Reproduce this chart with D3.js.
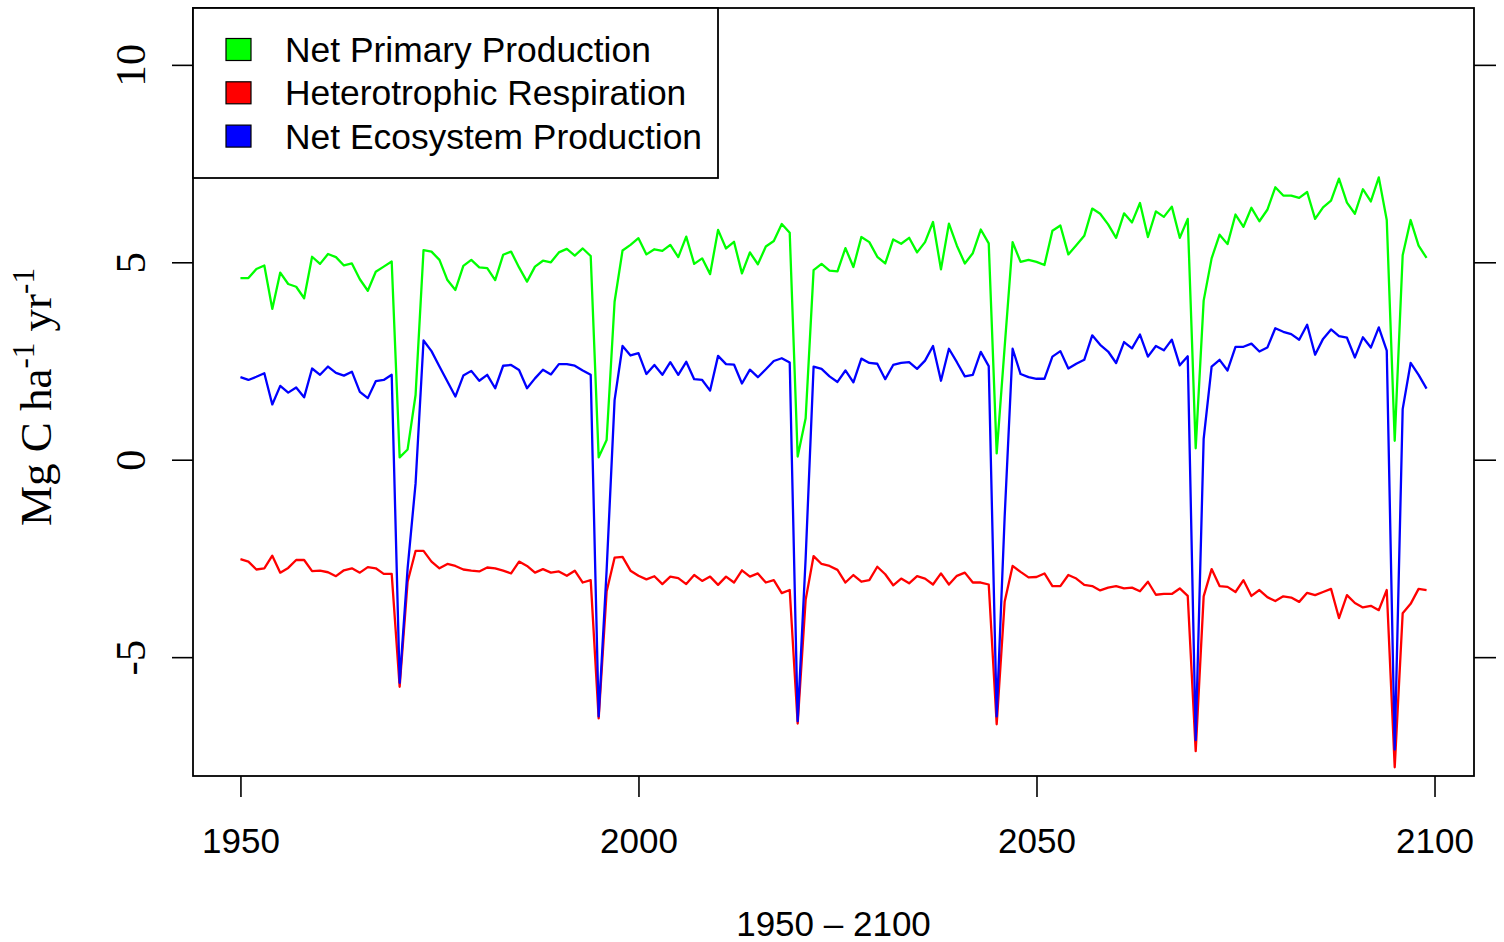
<!DOCTYPE html>
<html>
<head>
<meta charset="utf-8">
<script src="https://cdn.jsdelivr.net/npm/d3@7/dist/d3.min.js"></script>
<style>
    html, body { margin: 0; padding: 0; background: #fff; }
    svg { display: block; }
    .sans { font-family: 'Liberation Sans', Arial, Helvetica, sans-serif; }
    .serif { font-family: 'Liberation Serif', 'Times New Roman', serif; }
</style>
</head>
<body>
<svg id="chart"></svg>
<script>
// Data (Mg C ha-1 yr-1), one value per year 1950 - 2099;
const firstYear = 1950;
const lastYear = 2099;

const npp = [
    4.60, 4.60, 4.83, 4.92, 3.82, 4.74, 4.45, 4.38, 4.09, 5.14, 4.96, 5.21, 5.13, 4.92, 4.97, 4.57, 4.28, 4.76, 4.89, 5.02,
    0.06, 0.26, 1.64, 5.31, 5.27,
    5.06, 4.55, 4.30, 4.91, 5.06, 4.87, 4.85, 4.55, 5.19, 5.27, 4.87, 4.51, 4.89, 5.04, 5.00, 5.25, 5.34, 5.17, 5.35, 5.16,
    0.06, 0.50, 4.00, 5.30, 5.44,
    5.61, 5.20, 5.33, 5.29, 5.44, 5.13, 5.65, 4.96, 5.10, 4.70, 5.82, 5.35, 5.52, 4.72, 5.25, 4.95, 5.40, 5.54, 5.97, 5.75,
    0.08, 1.05, 4.80, 4.96, 4.79,
    4.77, 5.36, 4.88, 5.64, 5.51, 5.14, 4.97, 5.58, 5.47, 5.62, 5.25, 5.51, 6.02, 4.82, 5.98, 5.42, 4.97, 5.23, 5.83, 5.48,
    0.16, 2.85, 5.51, 5.01, 5.06,
    5.01, 4.93, 5.80, 5.93, 5.20, 5.43, 5.67, 6.36, 6.23, 5.96, 5.62, 6.24, 6.01, 6.50, 5.64, 6.29, 6.15, 6.41, 5.62, 6.10,
    0.29, 4.03, 5.10, 5.70, 5.46,
    6.21, 5.90, 6.38, 6.04, 6.33, 6.90, 6.69, 6.69, 6.63, 6.78, 6.10, 6.39, 6.56, 7.12, 6.51, 6.23, 6.85, 6.54, 7.15, 6.07,
    0.48, 5.18, 6.07, 5.42, 5.11
];

const rh = [
    -2.52, -2.58, -2.78, -2.75, -2.43, -2.86, -2.74, -2.54, -2.54, -2.82, -2.81, -2.85, -2.95, -2.80, -2.75, -2.86, -2.72, -2.75, -2.89, -2.89,
    -5.75, -3.09, -2.31, -2.31, -2.58,
    -2.75, -2.64, -2.69, -2.78, -2.81, -2.83, -2.73, -2.75, -2.81, -2.88, -2.58, -2.69, -2.86, -2.77, -2.86, -2.83, -2.94, -2.81, -3.11, -3.05,
    -6.55, -3.34, -2.48, -2.46, -2.81,
    -2.94, -3.03, -2.95, -3.15, -2.96, -3.00, -3.15, -2.92, -3.07, -2.96, -3.17, -2.96, -3.11, -2.80, -2.96, -2.88, -3.11, -3.05, -3.38, -3.30,
    -6.68, -3.55, -2.44, -2.64, -2.69,
    -2.79, -3.11, -2.92, -3.09, -3.05, -2.71, -2.90, -3.18, -3.01, -3.13, -2.95, -3.01, -3.16, -2.88, -3.16, -2.94, -2.86, -3.11, -3.11, -3.16,
    -6.70, -3.60, -2.69, -2.84, -2.98,
    -2.97, -2.88, -3.20, -3.20, -2.92, -3.01, -3.17, -3.20, -3.31, -3.24, -3.20, -3.26, -3.24, -3.33, -3.09, -3.42, -3.40, -3.40, -3.26, -3.45,
    -7.38, -3.46, -2.77, -3.20, -3.22,
    -3.35, -3.05, -3.45, -3.30, -3.48, -3.58, -3.46, -3.49, -3.60, -3.37, -3.43, -3.35, -3.27, -4.01, -3.43, -3.63, -3.74, -3.70, -3.81, -3.30,
    -7.79, -3.89, -3.65, -3.27, -3.30
];

const nep = [
    2.09, 2.02, 2.10, 2.19, 1.40, 1.87, 1.70, 1.83, 1.58, 2.31, 2.15, 2.36, 2.20, 2.13, 2.23, 1.72, 1.56, 1.99, 2.02, 2.15,
    -5.65, -2.75, -0.60, 3.02, 2.75,
    2.36, 1.98, 1.60, 2.13, 2.25, 2.00, 2.15, 1.81, 2.38, 2.40, 2.27, 1.81, 2.06, 2.28, 2.16, 2.42, 2.42, 2.38, 2.26, 2.15,
    -6.50, -2.80, 1.51, 2.88, 2.64,
    2.70, 2.17, 2.40, 2.15, 2.47, 2.15, 2.48, 2.04, 2.02, 1.75, 2.63, 2.42, 2.41, 1.93, 2.28, 2.09, 2.29, 2.50, 2.57, 2.46,
    -6.62, -2.50, 2.36, 2.30, 2.11,
    1.97, 2.26, 1.96, 2.56, 2.45, 2.43, 2.04, 2.40, 2.45, 2.47, 2.30, 2.51, 2.88, 2.00, 2.81, 2.47, 2.11, 2.15, 2.73, 2.37,
    -6.50, -1.45, 2.81, 2.17, 2.09,
    2.05, 2.05, 2.61, 2.75, 2.31, 2.43, 2.53, 3.15, 2.91, 2.74, 2.45, 2.98, 2.82, 3.17, 2.61, 2.88, 2.77, 3.04, 2.39, 2.62,
    -7.10, 0.53, 2.36, 2.53, 2.26,
    2.86, 2.86, 2.94, 2.74, 2.84, 3.33, 3.24, 3.18, 3.04, 3.42, 2.66, 3.06, 3.30, 3.13, 3.09, 2.59, 3.10, 2.84, 3.35, 2.76,
    -7.34, 1.28, 2.45, 2.15, 1.80
];

const seriesNames = ['Net Primary Production', 'Heterotrophic Respiration', 'Net Ecosystem Production'];
const seriesColors = ['#00ff00', '#ff0000', '#0000ff'];
const xTicks = [1950, 2000, 2050, 2100];
const yTicks = [-5, 0, 5, 10];
const xTitle = '1950 \u2013 2100';

// Layout;
const width = 1504;
const height = 942;
const plot = { left: 193, right: 1474, top: 8, bottom: 776 };

const svg = d3.select('#chart').attr('width', width).attr('height', height);

// Scales (R style: 4% padding on x);
const xPad = (lastYear - firstYear) * 0.04;
const x = d3.scaleLinear()
    .domain([firstYear - xPad, lastYear + xPad])
    .range([plot.left, plot.right]);
const y = d3.scaleLinear()
    .domain([-8.01, 11.44])
    .range([plot.bottom, plot.top]);

const years = d3.range(firstYear, lastYear + 1);
const series = [npp, rh, nep];

// Lines;
const line = d3.line()
    .x((d, i) => x(years[i]))
    .y((d) => y(d));

svg.append('g')
    .selectAll('path')
    .data(series)
    .enter()
    .append('path')
    .attr('d', (d) => line(d))
    .attr('fill', 'none')
    .attr('stroke', (d, i) => seriesColors[i])
    .attr('stroke-width', 2.3)
    .attr('stroke-linejoin', 'round');

// Bottom axis;
const xAxis = svg.append('g')
    .attr('class', 'sans')
    .attr('transform', `translate(0,${plot.bottom})`)
    .call(d3.axisBottom(x).tickValues(xTicks).tickFormat(d3.format('d')).tickSize(21).tickPadding(56));
xAxis.select('.domain').remove();
xAxis.selectAll('line').attr('stroke', '#000').attr('stroke-width', 1.6);
xAxis.selectAll('text').attr('font-size', 35).attr('fill', '#000').attr('dy', 0);

// Left axis, rotated serif labels (plain hyphen minus like R);
const yAxis = svg.append('g')
    .attr('transform', `translate(${plot.left},0)`)
    .call(d3.axisLeft(y).tickValues(yTicks).tickSize(21).tickFormat((d) => String(d)));
yAxis.select('.domain').remove();
yAxis.selectAll('line').attr('stroke', '#000').attr('stroke-width', 1.6);
yAxis.selectAll('text')
    .attr('class', 'serif')
    .attr('font-size', 43)
    .attr('fill', '#000')
    .attr('x', 0)
    .attr('dy', 0)
    .attr('text-anchor', 'middle')
    .attr('transform', 'translate(-48,0) rotate(-90)');

// Right axis, ticks only;
const yAxisRight = svg.append('g')
    .attr('transform', `translate(${plot.right},0)`)
    .call(d3.axisRight(y).tickValues(yTicks).tickSize(22).tickFormat(''));
yAxisRight.select('.domain').remove();
yAxisRight.selectAll('line').attr('stroke', '#000').attr('stroke-width', 1.6);

// Plot box;
svg.append('rect')
    .attr('x', plot.left)
    .attr('y', plot.top)
    .attr('width', plot.right - plot.left)
    .attr('height', plot.bottom - plot.top)
    .attr('fill', 'none')
    .attr('stroke', '#000')
    .attr('stroke-width', 1.8);

// Axis titles;
svg.append('text')
    .attr('class', 'sans')
    .attr('x', (plot.left + plot.right) / 2)
    .attr('y', 936)
    .attr('text-anchor', 'middle')
    .attr('font-size', 35)
    .text(xTitle);

const yTitle = svg.append('text')
    .attr('class', 'serif')
    .attr('text-anchor', 'middle')
    .attr('font-size', 45)
    .attr('transform', `translate(51,${(plot.top + plot.bottom) / 2 + 5}) rotate(-90)`);
yTitle.append('tspan').text('Mg C ha');
yTitle.append('tspan').attr('font-size', 31).attr('dy', -17).text('-1');
yTitle.append('tspan').attr('dy', 17).text(' yr');
yTitle.append('tspan').attr('font-size', 31).attr('dy', -17).text('-1');

// Legend;
const legend = svg.append('g').attr('class', 'sans');
legend.append('rect')
    .attr('x', plot.left)
    .attr('y', plot.top)
    .attr('width', 525)
    .attr('height', 170)
    .attr('fill', '#fff')
    .attr('stroke', '#000')
    .attr('stroke-width', 1.8);

const rows = legend.selectAll('.row')
    .data(seriesNames)
    .enter()
    .append('g')
    .attr('class', 'row')
    .attr('transform', (d, i) => `translate(0,${49.5 + i * 43.3})`);

rows.append('rect')
    .attr('x', 226)
    .attr('y', -11)
    .attr('width', 25)
    .attr('height', 22)
    .attr('fill', (d, i) => seriesColors[i])
    .attr('stroke', '#000')
    .attr('stroke-width', 1.2);

rows.append('text')
    .attr('x', 285)
    .attr('y', 12.5)
    .attr('font-size', 35.4)
    .text((d) => d);
</script>
</body>
</html>
